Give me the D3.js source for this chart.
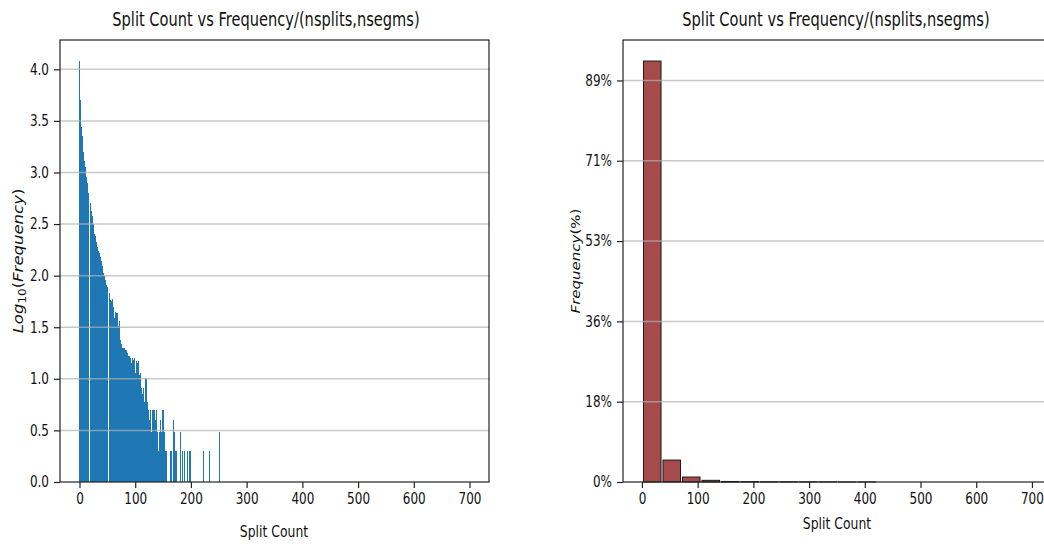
<!DOCTYPE html>
<html>
<head>
<meta charset="utf-8">
<script src="https://cdn.jsdelivr.net/npm/d3@7"></script>
<style>
  body { margin: 0; background: #fff; }
  text { font-family: "DejaVu Sans", sans-serif; fill: #111; }
</style>
</head>
<body>
<div id="chart"></div>
<script>
// Left chart: log10(frequency) per split count (gaps = no bar)
var splitCounts = [0,1,2,4,5,6,7,9,10,11,12,14,15,16,17,19,20,21,22,23,24,25,26,27,28,29,30,31,32,33,34,35,36,37,38,39,40,41,42,43,44,45,46,47,48,49,50,
  53,54,55,56,58,59,60,61,63,64,65,66,67,68,69,70,71,72,74,75,76,78,79,80,81,82,83,85,86,87,88,89,90,91,93,94,96,97,98,99,100,
  101,102,103,104,105,106,107,108,109,110,111,112,113,114,117,118,119,120,121,122,123,124,125,126,127,128,129,130,131,132,133,134,135,136,137,138,
  140,141,143,145,146,147,149,150,151,152,153,154,156,163,165,168,169,170,171,172,174,181,184,188,189,194,198,199,222,233,252];
var logFreq = [4.08,3.70,3.52,3.44,3.35,3.27,3.20,3.11,3.05,3.00,2.96,2.90,2.85,2.80,2.76,2.70,2.66,2.63,2.60,2.58,2.52,2.50,2.45,2.40,2.38,2.37,2.33,2.30,2.28,2.25,2.24,2.22,2.20,2.18,2.16,2.14,2.12,2.09,2.05,2.03,2.00,1.99,1.96,1.94,1.91,1.90,1.89,
  1.83,1.79,1.76,1.73,1.75,1.77,1.74,1.70,1.59,1.62,1.65,1.64,1.60,1.64,1.55,1.51,1.56,1.53,1.38,1.34,1.32,1.30,1.30,1.28,1.30,1.28,1.26,1.28,1.25,1.25,1.22,1.20,1.22,1.20,1.15,1.10,1.20,1.18,1.20,1.15,1.06,
  1.04,1.06,1.17,1.15,1.17,1.07,1.04,0.99,1.06,0.93,0.91,0.90,0.85,0.91,0.78,0.70,1.01,1.00,0.70,0.78,0.49,0.70,0.60,0.49,0.70,0.70,0.48,0.30,0.70,0.60,0.70,0.70,0.48,0.30,0.60,0.70,
  0.48,0.30,0.48,0.48,0.60,0.48,0.70,0.70,0.48,0.30,0.48,0.30,0.30,0.30,0.30,0.60,0.60,0.48,0.48,0.30,0.30,0.48,0.30,0.30,0.30,0.30,0.30,0.30,0.30,0.30,0.48,0.30];

// Right chart: histogram bins (start, width) and percentage
var binStarts = [1,36,71,106,141,176,211,246,281,316,351,386,421,456,491,526,561,596,631,666];
var binWidth = 35;
var binPercent = [93.3,4.86,1.10,0.37,0.12,0.08,0.05,0.04,0.03,0.02,0.01,0.01,0,0,0,0,0,0,0,0];

var xTicks = [0,100,200,300,400,500,600,700];
var leftYTicks = [0,0.5,1.0,1.5,2.0,2.5,3.0,3.5,4.0];
var rightYTicks = [0,17.8,35.6,53.4,71.2,89.0];
var rightYLabels = ["0%","18%","36%","53%","71%","89%"];

var titleText = "Split Count vs Frequency/(nsplits,nsegms)";
var squeeze = 0.8;   // the reference is squashed horizontally

var svg = d3.select("#chart").append("svg")
  .attr("width", 1044)
  .attr("height", 544);

function squish(sel, k) {
  sel.each(function() {
    var w = this.getComputedTextLength();
    d3.select(this).attr("textLength", w * k).attr("lengthAdjust", "spacingAndGlyphs");
  });
}

// ---------- left chart ----------
var L = {left: 60, right: 489, top: 40, bottom: 482};

var xLeft = d3.scaleLinear().domain([-35, 735]).range([L.left, L.right]);
var yLeft = d3.scaleLinear().domain([0, d3.max(logFreq) * 1.05]).range([L.bottom, L.top]);

var gL = svg.append("g");

gL.selectAll("rect.bar")
  .data(splitCounts)
  .enter()
  .append("rect")
  .attr("class", "bar")
  .attr("x", function(d) { return xLeft(d) - 0.5; })
  .attr("width", 1)
  .attr("y", function(d, i) { return yLeft(logFreq[i]); })
  .attr("height", function(d, i) { return yLeft(0) - yLeft(logFreq[i]); })
  .attr("fill", "#1f77b4")
  .attr("shape-rendering", "crispEdges");

gL.selectAll("line.grid")
  .data(leftYTicks.slice(1))
  .enter()
  .append("line")
  .attr("x1", L.left).attr("x2", L.right)
  .attr("y1", function(d) { return yLeft(d); })
  .attr("y2", function(d) { return yLeft(d); })
  .attr("stroke", "#b0b0b0")
  .attr("stroke-opacity", 0.7)
  .attr("stroke-width", 1.5);

gL.append("g")
  .attr("transform", "translate(0," + L.bottom + ")")
  .call(d3.axisBottom(xLeft).tickValues(xTicks).tickSize(6).tickPadding(5).tickFormat(d3.format("d")));
gL.append("g")
  .attr("transform", "translate(" + L.left + ",0)")
  .call(d3.axisLeft(yLeft).tickValues(leftYTicks).tickSize(6).tickPadding(5).tickFormat(d3.format(".1f")));

gL.append("rect")
  .attr("x", L.left).attr("y", L.top)
  .attr("width", L.right - L.left).attr("height", L.bottom - L.top)
  .attr("fill", "none").attr("stroke", "#222").attr("stroke-width", 1.2);

gL.append("text")
  .attr("class", "title")
  .attr("x", 266).attr("y", 26)
  .attr("text-anchor", "middle")
  .style("font-size", "19px")
  .text(titleText);

gL.append("text")
  .attr("class", "xlabel")
  .attr("x", 274).attr("y", 537)
  .attr("text-anchor", "middle")
  .style("font-size", "15.5px")
  .text("Split Count");

// rotated label: squash its height (screen-horizontal) instead of its length
var ylabL = gL.append("text")
  .attr("transform", "translate(23," + (L.top + L.bottom) / 2 + ") rotate(-90) scale(1,0.8)")
  .attr("text-anchor", "middle")
  .style("font-size", "16.5px");
ylabL.append("tspan").style("font-style", "italic").text("Log");
ylabL.append("tspan").attr("dy", 4).style("font-size", "12px").text("10");
ylabL.append("tspan").attr("dy", -4).text("(");
ylabL.append("tspan").style("font-style", "italic").text("Frequency");
ylabL.append("tspan").text(")");

// ---------- right chart ----------
var R = {left: 623, right: 1052, top: 40, bottom: 482};

var xRight = d3.scaleLinear().domain([-34, 736]).range([R.left, R.right]);
var yRight = d3.scaleLinear().domain([0, d3.max(binPercent) * 1.05]).range([R.bottom, R.top]);

var gR = svg.append("g");

gR.selectAll("rect.bin")
  .data(binStarts)
  .enter()
  .append("rect")
  .attr("class", "bin")
  .attr("x", function(d) { return xRight(d + binWidth * 0.05); })
  .attr("width", function(d) { return xRight(d + binWidth * 0.95) - xRight(d + binWidth * 0.05); })
  .attr("y", function(d, i) { return yRight(binPercent[i]); })
  .attr("height", function(d, i) { return yRight(0) - yRight(binPercent[i]); })
  .attr("fill", "#a64b4b")
  .attr("stroke", "#1a1a1a")
  .attr("stroke-width", 1);

gR.selectAll("line.grid")
  .data(rightYTicks.slice(1))
  .enter()
  .append("line")
  .attr("x1", R.left).attr("x2", R.right)
  .attr("y1", function(d) { return yRight(d); })
  .attr("y2", function(d) { return yRight(d); })
  .attr("stroke", "#b0b0b0")
  .attr("stroke-opacity", 0.7)
  .attr("stroke-width", 1.5);

gR.append("g")
  .attr("transform", "translate(0," + R.bottom + ")")
  .call(d3.axisBottom(xRight).tickValues(xTicks).tickSize(6).tickPadding(5).tickFormat(d3.format("d")));
gR.append("g")
  .attr("transform", "translate(" + R.left + ",0)")
  .call(d3.axisLeft(yRight).tickValues(rightYTicks).tickSize(6).tickPadding(5)
    .tickFormat(function(d, i) { return rightYLabels[i]; }));

gR.append("rect")
  .attr("x", R.left).attr("y", R.top)
  .attr("width", R.right - R.left).attr("height", R.bottom - R.top)
  .attr("fill", "none").attr("stroke", "#222").attr("stroke-width", 1.2);

gR.append("text")
  .attr("class", "title")
  .attr("x", 836).attr("y", 26)
  .attr("text-anchor", "middle")
  .style("font-size", "19px")
  .text(titleText);

gR.append("text")
  .attr("class", "xlabel")
  .attr("x", 837).attr("y", 529)
  .attr("text-anchor", "middle")
  .style("font-size", "15.5px")
  .text("Split Count");

var ylabR = gR.append("text")
  .attr("transform", "translate(580," + (R.top + R.bottom) / 2 + ") rotate(-90) scale(1,0.8)")
  .attr("text-anchor", "middle")
  .style("font-size", "15px");
ylabR.append("tspan").style("font-style", "italic").text("Frequency");
ylabR.append("tspan").text("(%)");

// axis styling
svg.selectAll(".domain").remove();
svg.selectAll(".tick line").attr("stroke", "#222").attr("stroke-width", 1.2);
svg.selectAll(".tick text").style("font-size", "15px").style("font-family", "DejaVu Sans");

squish(svg.selectAll(".tick text"), squeeze);
squish(svg.selectAll("text.title"), 0.77);
squish(svg.selectAll("text.xlabel"), squeeze);
</script>
</body>
</html>
